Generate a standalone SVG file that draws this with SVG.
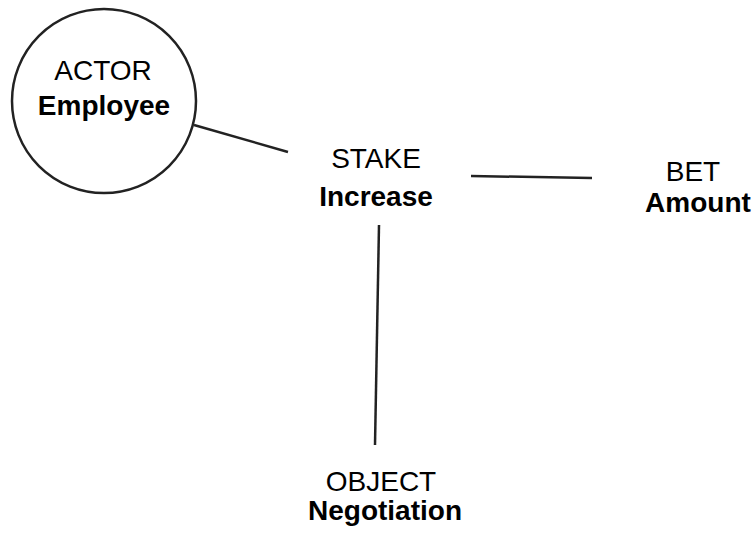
<svg xmlns="http://www.w3.org/2000/svg" width="756" height="535" viewBox="0 0 756 535">
<style>
.t{font-family:"Liberation Sans",Arial,sans-serif;font-size:28px;fill:#000;text-anchor:middle}
.b{font-weight:bold}
.c{stroke:#222;stroke-width:2.5;fill:none}
</style>
<rect width="756" height="535" fill="#fff"/>
<g id="connectors">
<line class="c" x1="194" y1="125" x2="288" y2="152"/>
<line class="c" x1="471" y1="176" x2="592" y2="178"/>
<line class="c" x1="379" y1="225" x2="375" y2="445"/>
</g>
<g id="actor">
<circle cx="104" cy="101" r="92" fill="#fff" stroke="#222" stroke-width="2.5"/>
<text class="t" x="103" y="80">ACTOR</text>
<text class="t b" x="104" y="115">Employee</text>
</g>
<g id="stake">
<text class="t" x="376" y="168">STAKE</text>
<text class="t b" x="376" y="206">Increase</text>
</g>
<g id="bet">
<text class="t" x="693" y="181">BET</text>
<text class="t b" x="698" y="212">Amount</text>
</g>
<g id="object">
<text class="t" x="381" y="491">OBJECT</text>
<text class="t b" x="385" y="520">Negotiation</text>
</g>
</svg>
